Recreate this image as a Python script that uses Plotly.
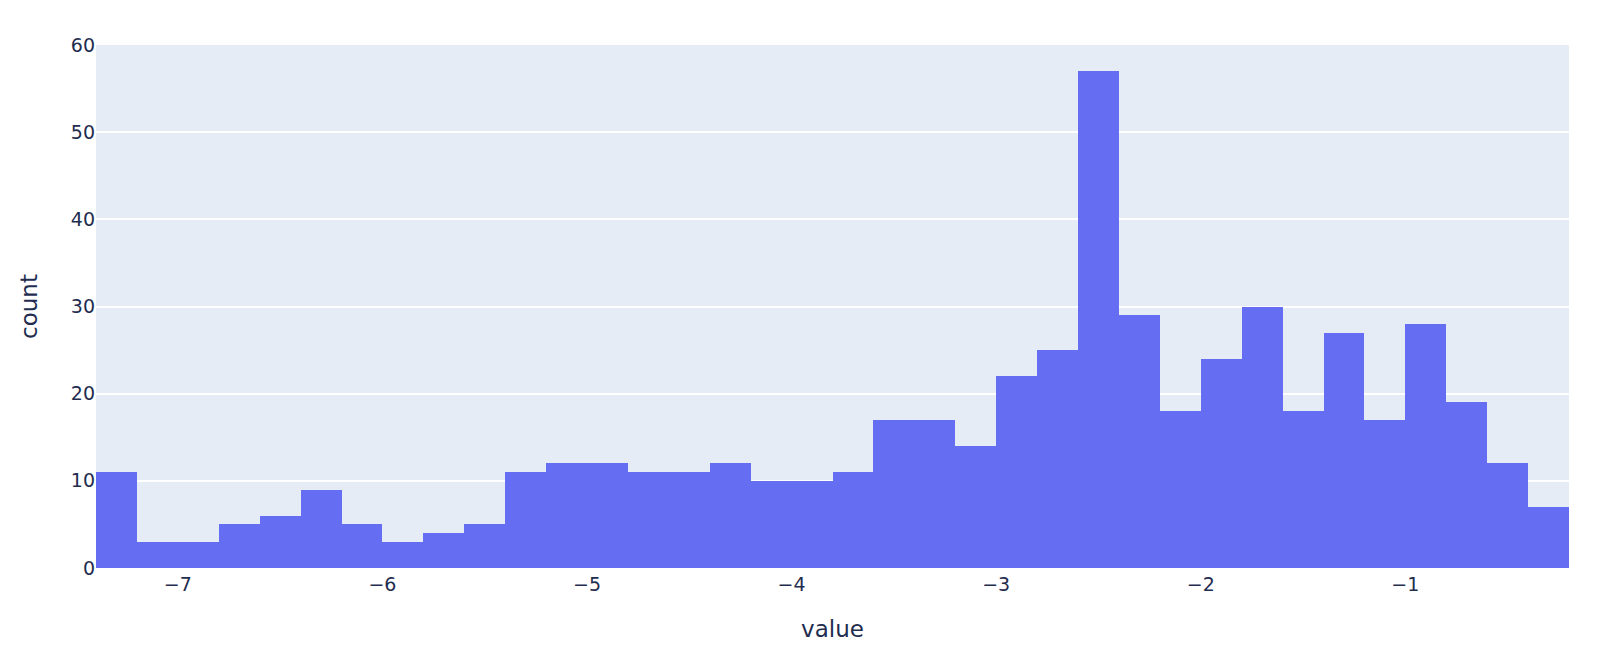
import plotly.graph_objects as go

# === Data (bin width 0.2) ===

bin_start = -7.4
bin_size = 0.2
counts = [11, 3, 3, 5, 6, 9, 5, 3, 4, 5,
          11, 12, 12, 11, 11, 12, 10, 10, 11, 17,
          17, 14, 22, 25, 57, 29, 18, 24, 30, 18,
          27, 17, 28, 19, 12, 7]
bin_centers = [round(bin_start + bin_size * (i + 0.5), 2) for i in range(len(counts))]
bin_end = bin_start + bin_size * len(counts)

x_ticks = [-7, -6, -5, -4, -3, -2, -1]
y_ticks = [0, 10, 20, 30, 40, 50, 60]

# === Figure ===

fig = go.Figure(
    go.Histogram(
        x=bin_centers,
        y=counts,
        histfunc="sum",
        xbins=dict(start=bin_start, end=bin_end, size=bin_size),
        marker=dict(color="#656df2", line=dict(width=0)),
    )
)

# page body has an 8px margin, so the figure is shrunk by that much
fig.update_layout(
    template="plotly",
    width=1592,
    height=642,
    bargap=0,
    showlegend=False,
    margin=dict(l=88, r=31, t=37, b=82),
    font=dict(family="DejaVu Sans, Verdana, sans-serif", color="#1f2d4f"),
    xaxis=dict(
        title=dict(text="value", font=dict(size=23), standoff=26),
        range=[bin_start, bin_end],
        tickvals=x_ticks,
        ticktext=["\u2212" + str(abs(v)) for v in x_ticks],
        tickfont=dict(size=19),
        ticklabelstandoff=3,
        showgrid=False,
        zeroline=False,
    ),
    yaxis=dict(
        title=dict(text="count", font=dict(size=23), standoff=26),
        range=[0, 60],
        tickvals=y_ticks,
        tickfont=dict(size=19),
        gridcolor="white",
        gridwidth=1.5,
        zeroline=False,
    ),
)

fig.write_html("out.html")
